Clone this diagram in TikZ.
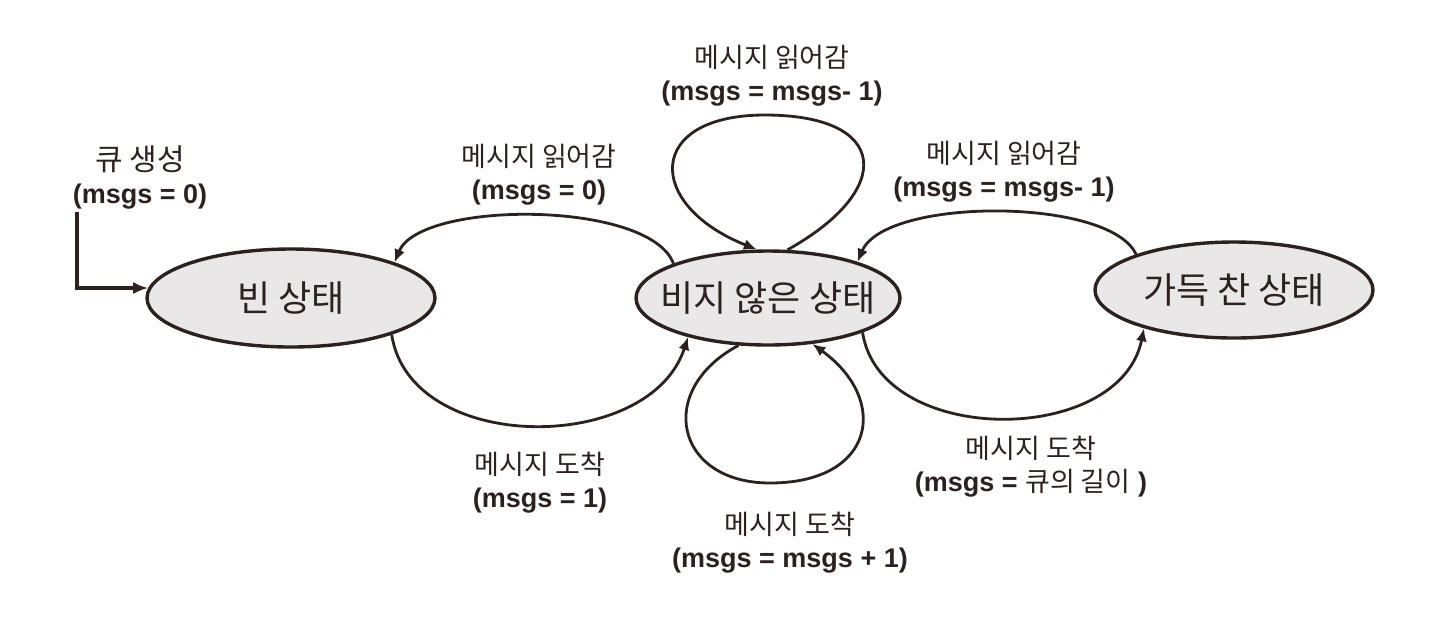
\documentclass[tikz,border=0pt]{standalone}
\usepackage{fontspec}
\setmainfont{Liberation Sans}
\newfontfamily\kr{Noto Sans CJK KR}
\usetikzlibrary{arrows.meta,shapes.geometric}

\definecolor{inkline}{HTML}{2B221F}
\definecolor{statefill}{HTML}{EAE7E9}

\tikzset{
	state/.style={ellipse, draw=inkline, line width=1.7pt, fill=statefill, inner sep=0pt,
		font=\kr\fontsize{18}{20}\selectfont, text=inkline},
	lbl/.style={align=center, font=\fontsize{13.5}{16.5}\selectfont, text=inkline},
	move/.style={draw=inkline, line width=1.4pt, -{Latex[length=6.5pt,width=5.5pt]}},
	init/.style={draw=inkline, line width=2pt, -{Latex[length=7.5pt,width=6pt]}}
}
\newcommand{\kor}[1]{{\kr #1}}
\newcommand{\msg}[1]{{\bfseries #1}}

\begin{document}
\begin{tikzpicture}[x=0.5pt,y=-0.5pt]
	\useasboundingbox (0,0) rectangle (1440,629);
	
	% states
	\node[state, minimum width=144pt, minimum height=49pt] (empty) at (291,298) {\makebox[0pt]{빈 상태}};
	\node[state, minimum width=132pt, minimum height=47pt] (nonempty) at (768,298) {\makebox[0pt]{비지 않은 상태}};
	\node[state, minimum width=139pt, minimum height=48pt] (full) at (1234,290) {\makebox[0pt]{가득 찬 상태}};
	
	% labels
	\node[lbl] (create) at (140,177) {\kor{\fontsize{15}{16.5}\selectfont 큐 생성}\\\msg{(msgs = 0)}};
	\node[lbl] (readempty) at (539,175) {\kor{메시지 읽어감}\\\msg{(msgs = 0)}};
	\node[lbl] (readloop) at (772,76) {\kor{메시지 읽어감}\\\msg{(msgs = msgs- 1)}};
	\node[lbl] (readfull) at (1004,172) {\kor{메시지 읽어감}\\\msg{(msgs = msgs- 1)}};
	\node[lbl] (arrempty) at (540,483) {\kor{메시지 도착}\\\msg{(msgs = 1)}};
	\node[lbl] (arrloop) at (790,543) {\kor{메시지 도착}\\\msg{(msgs = msgs + 1)}};
	\node[lbl] (arrfull) at (1031,467) {\kor{메시지 도착}\\\msg{(msgs =} \kor{큐의 길이} \msg{)}};
	
	% transitions
	\coordinate (start) at (77,212);
	\draw[init] (start) |- (empty.176);
	\draw[move] (nonempty.160) .. controls (650,200) and (420,200) .. (empty.19);
	\draw[move] (empty.-20) .. controls (410,455) and (650,455) .. (nonempty.-154);
	\draw[move] (full.160) .. controls (1110,197) and (885,197) .. (nonempty.22);
	\draw[move] (nonempty.-20) .. controls (880,447) and (1120,447) .. (full.-157);
	\draw[move] (nonempty.68) .. controls (895,190) and (890,115) .. (765,115)
		.. controls (645,115) and (645,205) .. (nonempty.103);
	\draw[move] (nonempty.-122) .. controls (655,390) and (675,483) .. (770,483)
		.. controls (875,483) and (890,400) .. (nonempty.-46);
\end{tikzpicture}
\end{document}
